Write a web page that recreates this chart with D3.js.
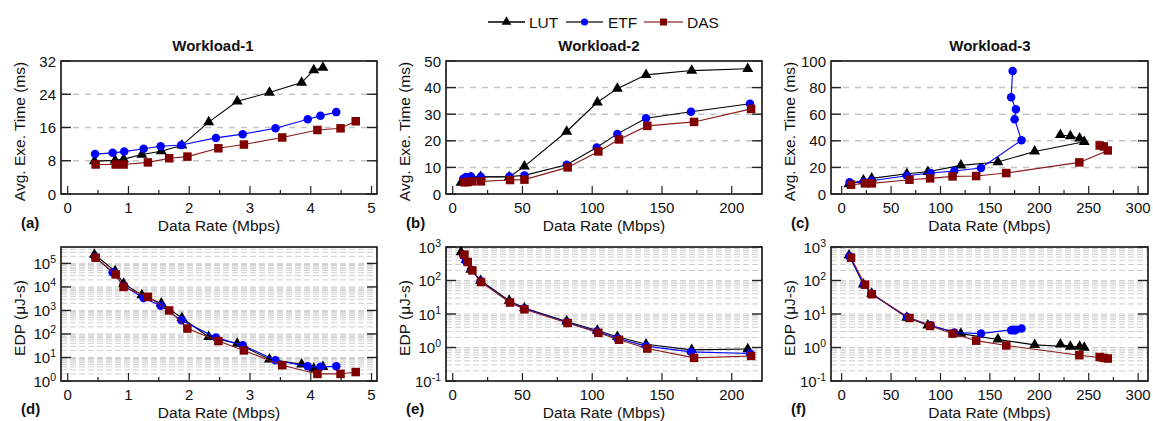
<!DOCTYPE html>
<html>
<head>
<meta charset="utf-8">
<script src="https://cdn.jsdelivr.net/npm/d3@7"></script>
<style>
body { margin: 0; background: #fff; }
svg text { font-family: "Liberation Sans", Arial, sans-serif; fill: #111; }
</style>
</head>
<body>
<svg id="chart" width="1153" height="421"></svg>
<script>
// ---- data ----
// Workload-1
lutRate1 = [0.44, 0.78, 0.92, 1.22, 1.54, 1.88, 2.32, 2.79, 3.32, 3.85, 4.05, 4.20]
lutTime1 = [7.9, 8.1, 8.4, 9.5, 10.3, 11.7, 17.3, 22.3, 24.4, 26.8, 29.8, 30.4]
lutEdp1  = [2.4e5, 4.7e4, 1.4e4, 4.5e3, 2.0e3, 480, 75, 39, 8.4, 5.1, 3.4, 4.0]
etfRate1 = [0.45, 0.74, 0.93, 1.25, 1.53, 1.87, 2.44, 2.88, 3.42, 3.95, 4.16, 4.42]
etfTime1 = [9.6, 9.9, 10.2, 10.9, 11.5, 11.8, 13.5, 14.4, 15.8, 18.0, 18.8, 19.7]
etfEdp1  = [1.9e5, 4.1e4, 1.08e4, 3.4e3, 1.6e3, 380, 70, 33, 7.6, 4.2, 4.0, 4.2]
dasRate1 = [0.46, 0.79, 0.92, 1.32, 1.67, 1.97, 2.48, 2.90, 3.53, 4.11, 4.49, 4.74]
dasTime1 = [7.1, 7.1, 7.1, 7.6, 8.6, 9.0, 11.0, 11.9, 13.6, 15.4, 15.8, 17.5]
dasEdp1  = [1.74e5, 3.4e4, 1.0e4, 3.8e3, 1.0e3, 170, 50, 20, 4.7, 2.0, 2.0, 2.4]

// Workload-2
lutRate2 = [6.0, 9.5, 13.0, 20.0, 40.5, 51.4, 81.7, 103.7, 118.0, 138.6, 171.3, 211.5]
lutTime2 = [4.3, 5.5, 6.2, 6.5, 6.4, 10.4, 23.5, 34.5, 39.6, 44.8, 46.4, 47.1]
lutEdp2  = [700, 420, 210, 100, 25, 15, 6.0, 3.2, 2.1, 1.25, 0.85, 0.9]
etfRate2 = [7.6, 9.6, 13.1, 20.1, 40.6, 51.4, 81.7, 103.2, 118.0, 138.6, 170.8, 213.1]
etfTime2 = [5.75, 6.4, 6.6, 6.5, 6.6, 7.0, 11.0, 17.5, 22.6, 28.5, 30.9, 33.9]
etfEdp2  = [560, 370, 210, 95, 23, 14.5, 5.7, 3.0, 1.9, 1.1, 0.74, 0.66]
dasRate2 = [8.4, 10.8, 14.1, 20.3, 41.1, 51.4, 82.4, 104.4, 119.2, 139.5, 173.0, 213.9]
dasTime2 = [4.4, 4.5, 4.75, 4.75, 5.25, 5.4, 10.0, 16.0, 20.5, 25.6, 27.1, 32.0]
dasEdp2  = [590, 357, 200, 90, 22, 13.8, 5.4, 2.75, 1.7, 0.93, 0.49, 0.56]

// Workload-3 (points kept in measured order, the saturated ones fold back)
lutRate3 = [7.4, 22.0, 30.4, 65.9, 87.2, 120.6, 158.1, 195.3, 245.5, 240.8, 231.4, 221.3]
lutTime3 = [7.5, 10.25, 11.75, 15.25, 16.75, 21.5, 24.0, 32.0, 39.3, 41.9, 43.6, 44.4]
lutEdp3  = [560, 77, 41, 7.8, 4.6, 2.6, 1.74, 1.2, 1.0, 1.07, 1.07, 1.25]
etfRate3 = [8.0, 22.5, 30.0, 66.0, 90.0, 114.0, 141.0, 182.0, 175.0, 176.3, 171.5, 173.0]
etfTime3 = [8.75, 9.0, 10.0, 13.75, 15.75, 17.25, 19.5, 40.4, 56.2, 63.7, 72.7, 92.5]
etfEdp3  = [525, 76, 40, 8.1, 4.6, 2.8, 2.6, 3.7, 3.2, 3.4, 3.3, 3.4]
dasRate3 = [9.5, 23.6, 30.4, 68.6, 89.5, 112.2, 136.1, 166.6, 240.5, 269.3, 265.2, 261.1]
dasTime3 = [7.0, 8.0, 8.0, 10.75, 11.75, 13.25, 13.5, 15.75, 23.75, 32.75, 35.75, 36.5]
dasEdp3  = [480, 75, 39, 7.6, 4.4, 2.6, 1.6, 1.15, 0.59, 0.47, 0.49, 0.52]

seriesNames = ['LUT', 'ETF', 'DAS']
workloads = ['Workload-1', 'Workload-2', 'Workload-3']
panelTags = [['(a)', '(d)'], ['(b)', '(e)'], ['(c)', '(f)']]
timeTicks = [[0, 8, 16, 24, 32], [0, 10, 20, 30, 40, 50], [0, 20, 40, 60, 80, 100]]
rateTicks = [[0, 1, 2, 3, 4, 5], [0, 50, 100, 150, 200], [0, 50, 100, 150, 200, 250, 300]]

const colors = { LUT: '#000', ETF: '#0000ff', DAS: '#800000' }
const lineColors = { LUT: '#000', ETF: '#0000ff', DAS: '#8b1a1a' }

const svg = d3.select('#chart')

const cols = [
  { left: 61, right: 377, xDomain: [-0.11, 5.09], minor: 0.5, titleX: 213 },
  { left: 446, right: 762, xDomain: [-4.8, 221.7], minor: 25, titleX: 599 },
  { left: 831, right: 1148, xDomain: [-10.8, 310], minor: 25, titleX: 990 }
]
const rows = [
  { top: 61, bottom: 194 },
  { top: 247, bottom: 381 }
]

const allData = [
  [[lutRate1, lutTime1, lutEdp1], [etfRate1, etfTime1, etfEdp1], [dasRate1, dasTime1, dasEdp1]],
  [[lutRate2, lutTime2, lutEdp2], [etfRate2, etfTime2, etfEdp2], [dasRate2, dasTime2, dasEdp2]],
  [[lutRate3, lutTime3, lutEdp3], [etfRate3, etfTime3, etfEdp3], [dasRate3, dasTime3, dasEdp3]]
]
const edpDomains = [[1, 5e5], [0.1, 1000], [0.1, 1000]]

function marker(sel, name, size) {
  if (name === 'LUT') {
    sel.append('path').attr('d', d3.symbol(d3.symbolTriangle, size * 5.2)()).attr('fill', colors.LUT)
  } else if (name === 'ETF') {
    sel.append('circle').attr('r', size / 2).attr('fill', colors.ETF)
  } else {
    sel.append('rect').attr('x', -size / 2).attr('y', -size / 2).attr('width', size).attr('height', size).attr('fill', colors.DAS)
  }
}

function drawPanel(ci, ri) {
  const c = cols[ci], r = rows[ri]
  const g = svg.append('g')
  const x = d3.scaleLinear().domain(c.xDomain).range([c.left, c.right])
  let y, majors
  if (ri === 0) {
    majors = timeTicks[ci]
    y = d3.scaleLinear().domain([0, majors[majors.length - 1]]).range([r.bottom, r.top])
  } else {
    y = d3.scaleLog().domain(edpDomains[ci]).range([r.bottom, r.top])
    majors = []
    const lo = Math.round(Math.log10(edpDomains[ci][0])), hi = Math.floor(Math.log10(edpDomains[ci][1]))
    for (let e = lo; e <= hi; e++) majors.push(Math.pow(10, e))
  }

  // grid
  if (ri === 0) {
    g.selectAll('.grid').data(majors.slice(1, -1)).enter().append('line')
      .attr('x1', c.left).attr('x2', c.right)
      .attr('y1', d => y(d)).attr('y2', d => y(d))
      .attr('stroke', '#c4c4c4').attr('stroke-width', 1.5).attr('stroke-dasharray', '6,6')
  } else {
    const dom = edpDomains[ci]
    let gv = []
    for (let e = Math.floor(Math.log10(dom[0])); e <= Math.ceil(Math.log10(dom[1])); e++) {
      for (let m = 1; m <= 9; m++) {
        const v = m * Math.pow(10, e)
        if (v > dom[0] * 1.001 && v < dom[1] * 0.999) gv.push(v)
      }
    }
    g.selectAll('.grid').data(gv).enter().append('line')
      .attr('x1', c.left).attr('x2', c.right)
      .attr('y1', d => y(d)).attr('y2', d => y(d))
      .attr('stroke', '#cfcfcf').attr('stroke-width', 1).attr('stroke-dasharray', '6,3')
  }

  // series
  seriesNames.forEach((name, si) => {
    const d = allData[ci][si]
    const pts = d[0].map((v, i) => [x(v), y(d[ri + 1][i])])
    let lc = lineColors[name]
    if (name === 'ETF' && ci === 1 && ri === 0) lc = '#000'
    g.append('path').attr('d', d3.line()(pts)).attr('fill', 'none')
      .attr('stroke', lc).attr('stroke-width', 1.1)
    pts.forEach(p => {
      marker(g.append('g').attr('transform', `translate(${p[0]},${p[1]})`), name, name === 'LUT' ? 10 : 8.5)
    })
  })

  // frame
  g.append('rect').attr('x', c.left).attr('y', r.top)
    .attr('width', c.right - c.left).attr('height', r.bottom - r.top)
    .attr('fill', 'none').attr('stroke', '#000').attr('stroke-width', 1.5)

  // y ticks (left and right, inward)
  majors.forEach(v => {
    const yy = y(v)
    g.append('line').attr('x1', c.left).attr('x2', c.left + 10).attr('y1', yy).attr('y2', yy).attr('stroke', '#222').attr('stroke-width', 1.4)
    g.append('line').attr('x1', c.right - 10).attr('x2', c.right).attr('y1', yy).attr('y2', yy).attr('stroke', '#222').attr('stroke-width', 1.4)
    const t = g.append('text').attr('x', c.left - 5).attr('y', yy + 5.5).attr('text-anchor', 'end').attr('font-size', 15)
    if (ri === 0) {
      t.text(v)
    } else {
      const e = Math.round(Math.log10(v))
      t.append('tspan').text('10')
      t.append('tspan').attr('dy', -6).attr('font-size', 10.5).text(e)
    }
  })

  // x ticks (bottom, inward)
  const xt = rateTicks[ci]
  const minors = d3.range(0, c.xDomain[1], c.minor).filter(v => !xt.some(m => Math.abs(m - v) < 1e-6))
  xt.forEach(v => {
    g.append('line').attr('x1', x(v)).attr('x2', x(v)).attr('y1', r.bottom).attr('y2', r.bottom - 8).attr('stroke', '#222').attr('stroke-width', 1.2)
    g.append('text').attr('x', x(v)).attr('y', r.bottom + 19).attr('text-anchor', 'middle').attr('font-size', 15).text(v)
  })
  minors.forEach(v => {
    g.append('line').attr('x1', x(v)).attr('x2', x(v)).attr('y1', r.bottom).attr('y2', r.bottom - 4).attr('stroke', '#222').attr('stroke-width', 1.2)
  })

  // labels
  g.append('text').attr('x', (c.left + c.right) / 2).attr('y', r.bottom + 37).attr('text-anchor', 'middle')
    .attr('font-size', 15.5).text('Data Rate (Mbps)')
  g.append('text').attr('x', c.left - 40).attr('y', r.bottom + (ri === 0 ? 34 : 33))
    .attr('font-size', 15).attr('font-weight', 'bold').text(panelTags[ci][ri])
  g.append('text')
    .attr('transform', `translate(${c.left - 36},${(r.top + r.bottom) / 2 + 4}) rotate(-90)`)
    .attr('text-anchor', 'middle').attr('font-size', 15.5)
    .text(ri === 0 ? 'Avg. Exe. Time (ms)' : 'EDP (\u03bcJ-s)')
  if (ri === 0) {
    g.append('text').attr('x', c.titleX).attr('y', r.top - 10).attr('text-anchor', 'middle')
      .attr('font-size', 15).attr('font-weight', 'bold').text(workloads[ci])
  }
}

for (let ci = 0; ci < 3; ci++) for (let ri = 0; ri < 2; ri++) drawPanel(ci, ri)

// legend
const legY = 22
const legItems = [
  { name: 'LUT', x1: 488, x2: 525, tx: 529 },
  { name: 'ETF', x1: 566, x2: 603, tx: 608 },
  { name: 'DAS', x1: 644, x2: 683, tx: 687 }
]
const leg = svg.append('g')
legItems.forEach(it => {
  leg.append('line').attr('x1', it.x1).attr('x2', it.x2).attr('y1', legY).attr('y2', legY)
    .attr('stroke', it.name === 'DAS' ? '#a04848' : (it.name === 'ETF' ? '#333' : '#000')).attr('stroke-width', 1.5)
  marker(leg.append('g').attr('transform', `translate(${(it.x1 + it.x2) / 2},${legY})`), it.name, it.name === 'LUT' ? 8 : 7)
  leg.append('text').attr('x', it.tx).attr('y', legY + 5.5).attr('font-size', 15.5).text(it.name)
})
</script>
</body>
</html>
